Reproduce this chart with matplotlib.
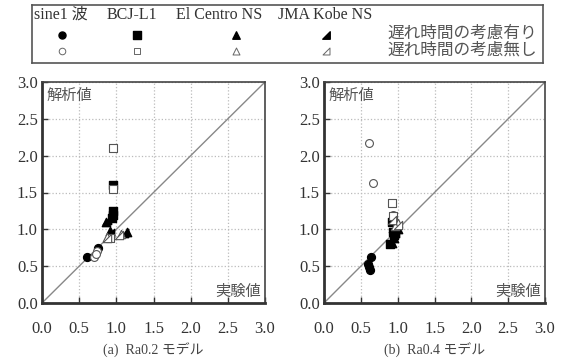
import matplotlib
matplotlib.use('Agg')
import matplotlib.pyplot as plt
from matplotlib.path import Path

plt.rcParams['font.family'] = ['Liberation Serif', 'Noto Sans CJK JP']

# panel (a) Ra0.2 : experiment (x) vs analysis (y)
a_sine_on_x = [0.60, 0.76]
a_sine_on_y = [0.63, 0.74]
a_sine_off_x = [0.70, 0.74, 0.72]
a_sine_off_y = [0.63, 0.70, 0.67]
a_bcj_on_x = [0.95, 0.95, 0.95, 0.94]
a_bcj_on_y = [1.60, 1.25, 1.20, 1.15]
a_bcj_off_x = [0.95, 0.95, 0.91]
a_bcj_off_y = [2.10, 1.55, 0.88]
a_elc_on_x = [0.91, 1.14, 0.86]
a_elc_on_y = [0.98, 0.97, 1.10]
a_elc_off_x = [1.06, 0.88]
a_elc_off_y = [0.93, 0.90]
a_kobe_on_x = [0.88, 1.10, 0.92]
a_kobe_on_y = [1.12, 0.95, 0.95]
a_kobe_off_x = [0.88, 1.04]
a_kobe_off_y = [0.88, 0.92]

# panel (b) Ra0.4
b_sine_on_x = [0.64, 0.60, 0.63, 0.61]
b_sine_on_y = [0.62, 0.53, 0.45, 0.49]
b_sine_off_x = [0.61, 0.66, 0.93]
b_sine_off_y = [2.17, 1.63, 1.20]
b_bcj_on_x = [0.92, 0.93, 0.95, 0.90]
b_bcj_on_y = [1.10, 0.97, 0.92, 0.80]
b_bcj_off_x = [0.92, 0.93]
b_bcj_off_y = [1.36, 1.18]
b_elc_on_x = [0.95, 1.00, 0.92]
b_elc_on_y = [0.88, 1.00, 0.82]
b_elc_off_x = [1.00, 0.96]
b_elc_off_y = [1.08, 1.05]
b_kobe_on_x = [0.97, 0.93]
b_kobe_on_y = [0.95, 1.02]
b_kobe_off_x = [0.92, 1.00]
b_kobe_off_y = [1.12, 1.06]

ticks = [0.0, 0.5, 1.0, 1.5, 2.0, 2.5, 3.0]
wave_names = ['sine1 波', 'BCJ-L1', 'El Centro NS', 'JMA Kobe NS']
row_names = ['遅れ時間の考慮有り', '遅れ時間の考慮無し']

kobe = Path([(1, -1), (1, 1), (-1, -1), (1, -1)],
            [Path.MOVETO, Path.LINETO, Path.LINETO, Path.CLOSEPOLY])
markers = ['o', 's', '^', kobe]
sizes = [32, 32, 36, 36]

fig = plt.figure(figsize=(5.64, 3.6), dpi=100)
W, H = 564.0, 360.0


def panel(left, right, on, off, caption):
    ax = fig.add_axes([left / W, (H - 303) / H, (right - left) / W, 221 / H])
    ax.set_xlim(0, 3)
    ax.set_ylim(0, 3)
    ax.set_xticks(ticks)
    ax.set_yticks(ticks)
    ax.set_xticklabels(['%.1f' % t for t in ticks])
    ax.set_yticklabels(['%.1f' % t for t in ticks])
    ax.grid(True, linestyle=':', color='#bbbbbb', linewidth=0.9)
    ax.plot([0, 3], [0, 3], color='#888888', linewidth=1, zorder=2)
    for (x, y), m, s in zip(on, markers, sizes):
        ax.scatter(x, y, marker=m, s=s, color='black', zorder=3)
    for (x, y), m, s in zip(off, markers, sizes):
        ax.scatter(x, y, marker=m, s=s, facecolor='white', edgecolor='#555555',
                   linewidth=0.8, zorder=4)
    ax.tick_params(direction='in', length=4, width=1, colors='#333333',
                   labelsize=12, labelcolor='#333333')
    ax.tick_params(axis='x', pad=13)
    ax.tick_params(axis='y', pad=3)
    for s in ['left', 'bottom']:
        ax.spines[s].set_linewidth(2)
        ax.spines[s].set_color('#333333')
    for s in ['top', 'right']:
        ax.spines[s].set_linewidth(1.2)
        ax.spines[s].set_color('#444444')
    ax.text(0.02, 0.97, '解析値', transform=ax.transAxes, ha='left', va='top',
            fontsize=11, color='#555555')
    ax.text(0.98, 0.02, '実験値', transform=ax.transAxes, ha='right', va='bottom',
            fontsize=11, color='#555555')
    ax.text(0.5, -0.212, caption, transform=ax.transAxes, ha='center', va='center',
            fontsize=10, color='#444444')
    return ax


panel(42, 265,
      [(a_sine_on_x, a_sine_on_y), (a_bcj_on_x, a_bcj_on_y),
       (a_elc_on_x, a_elc_on_y), (a_kobe_on_x, a_kobe_on_y)],
      [(a_sine_off_x, a_sine_off_y), (a_bcj_off_x, a_bcj_off_y),
       (a_elc_off_x, a_elc_off_y), (a_kobe_off_x, a_kobe_off_y)],
      '(a)  Ra0.2 モデル')
panel(324, 545,
      [(b_sine_on_x, b_sine_on_y), (b_bcj_on_x, b_bcj_on_y),
       (b_elc_on_x, b_elc_on_y), (b_kobe_on_x, b_kobe_on_y)],
      [(b_sine_off_x, b_sine_off_y), (b_bcj_off_x, b_bcj_off_y),
       (b_elc_off_x, b_elc_off_y), (b_kobe_off_x, b_kobe_off_y)],
      '(b)  Ra0.4 モデル')

# legend box drawn in pixel coordinates
lg = fig.add_axes([32 / W, (H - 63) / H, (543 - 32) / W, 58 / H])
lg.set_xlim(32, 543)
lg.set_ylim(63, 5)
lg.set_xticks([])
lg.set_yticks([])
for s in lg.spines.values():
    s.set_color('#555555')
    s.set_linewidth(1.2)
header_x = [61, 132, 219, 325]
marker_x = [62, 137, 236, 326]
for name, hx in zip(wave_names, header_x):
    lg.text(hx, 15, name, ha='center', va='center', fontsize=11.5, color='#333333')
for mx, m, s in zip(marker_x, markers, sizes):
    lg.scatter(mx, 35, marker=m, s=s * 0.8, color='black')
    lg.scatter(mx, 51, marker=m, s=s * 0.7, facecolor='white',
               edgecolor='#666666', linewidth=0.7)
lg.text(537, 34, row_names[0], ha='right', va='center', fontsize=12, color='#555555')
lg.text(537, 51, row_names[1], ha='right', va='center', fontsize=12, color='#555555')

fig.savefig('out.png', dpi=100)
